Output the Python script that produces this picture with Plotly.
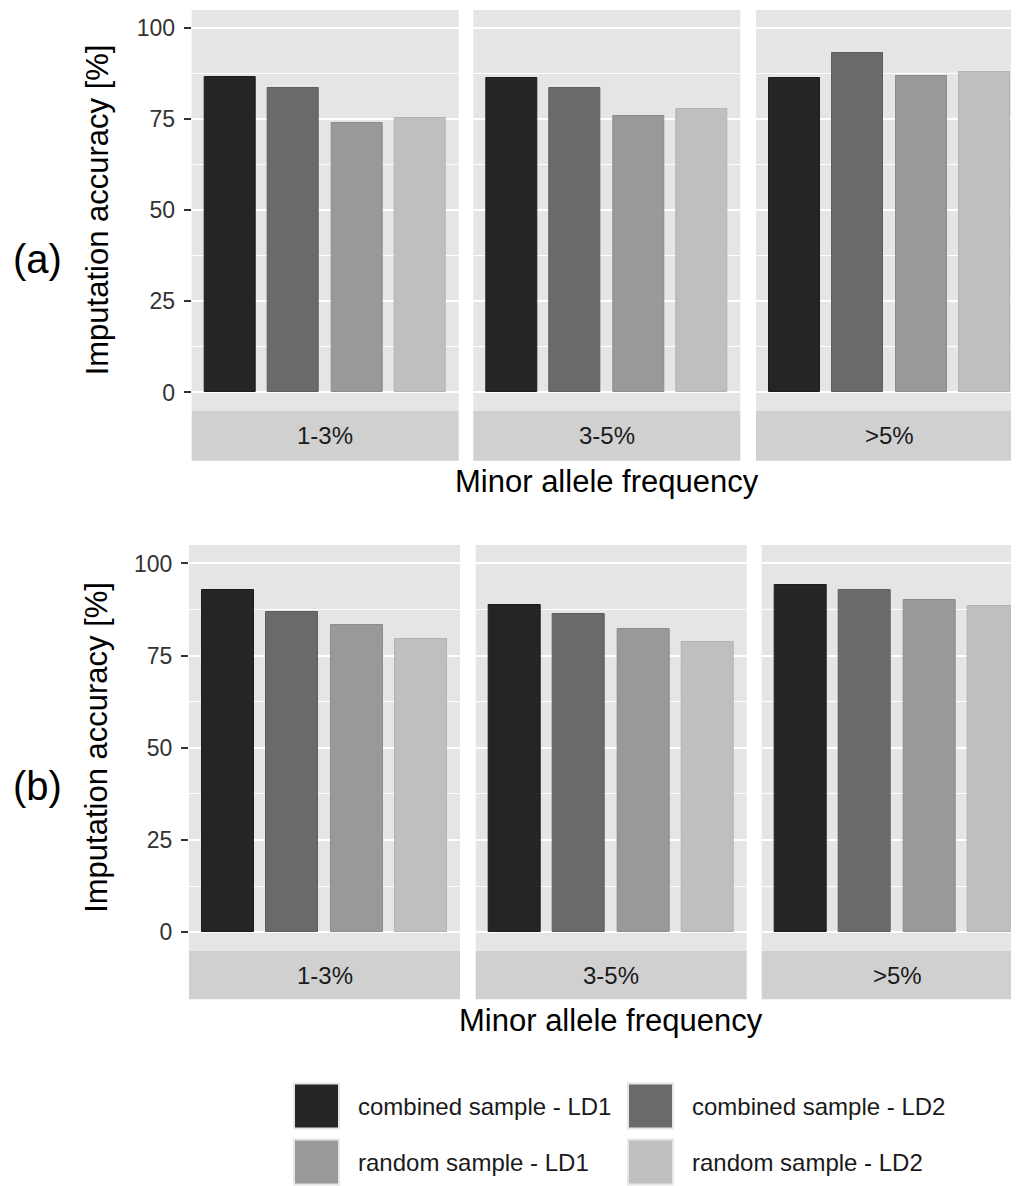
import plotly.graph_objects as go

# ---------------- data ----------------
facets = ["1-3%", "3-5%", ">5%"]
series = ["combined sample - LD1", "combined sample - LD2",
          "random sample - LD1", "random sample - LD2"]
colors = ["#252525", "#6a6a6a", "#999999", "#bfbfbf"]
edge_colors = ["#1c1c1c", "#5e5e5e", "#8c8c8c", "#b3b3b3"]
y_ticks = [0, 25, 50, 75, 100]
y_minor = [12.5, 37.5, 62.5, 87.5]

# panel (a): one value per facet (1-3%, 3-5%, >5%)
a_comb_ld1 = [86.5, 86.2, 86.2]
a_comb_ld2 = [83.6, 83.6, 93.2]
a_rand_ld1 = [74.1, 75.9, 86.9]
a_rand_ld2 = [75.4, 77.7, 87.9]
# panel (b)
b_comb_ld1 = [92.8, 88.7, 94.1]
b_comb_ld2 = [86.7, 86.3, 92.8]
b_rand_ld1 = [83.4, 82.3, 90.1]
b_rand_ld2 = [79.4, 78.8, 88.5]

panel_values = [
    [a_comb_ld1, a_comb_ld2, a_rand_ld1, a_rand_ld2],
    [b_comb_ld1, b_comb_ld2, b_rand_ld1, b_rand_ld2],
]
panel_labels = ["(a)", "(b)"]

# ---------------- geometry (page pixels) ----------------
W, H = 1019, 1186
OFF = 8  # default body margin of the html page
FONT = "Liberation Sans, Arial, Helvetica, sans-serif"

panels = [
    dict(top=10, bottom=410.7, strip_bottom=460.7, starts=[191.7, 473.3, 756.0], width=267.0, label_y=259),
    dict(top=545, bottom=950.7, strip_bottom=999.3, starts=[189.0, 475.7, 761.7], width=271.0, label_y=786),
]


def px(x):
    return (x - OFF) / W


def py(y):
    return 1 - (y - OFF) / H


fig = go.Figure()
layout = dict(
    width=W, height=H, autosize=False,
    margin=dict(l=0, r=0, t=0, b=0),
    paper_bgcolor="white", plot_bgcolor="#e5e5e5",
    showlegend=False, bargap=0,
    font=dict(family=FONT, color="#1a1a1a"),
)
shapes = []
annotations = []

for p, pan in enumerate(panels):
    vals = panel_values[p]
    for f in range(3):
        k = p * 3 + f
        xid = "x" if k == 0 else f"x{k+1}"
        yid = "y" if k == 0 else f"y{k+1}"
        xkey = "xaxis" if k == 0 else f"xaxis{k+1}"
        ykey = "yaxis" if k == 0 else f"yaxis{k+1}"
        x0 = pan["starts"][f]
        x1 = min(x0 + pan["width"], W)
        visible = (x1 - x0) / pan["width"] * 4.2
        layout[xkey] = dict(
            domain=[px(x0), px(x1)], anchor=yid,
            type="category", categoryorder="array", categoryarray=series,
            range=[-0.6, -0.6 + visible],
            showticklabels=False, ticks="", showgrid=False, zeroline=False,
            showline=False, fixedrange=True,
        )
        layout[ykey] = dict(
            domain=[py(pan["bottom"]), py(pan["top"])], anchor=xid,
            range=[-5, 105], tickmode="array", tickvals=y_ticks,
            ticktext=[str(t) for t in y_ticks],
            showgrid=True, gridcolor="white", gridwidth=2.2,
            minor=dict(tickmode="array", tickvals=y_minor, showgrid=True,
                       gridcolor="white", gridwidth=1.1, ticks=""),
            zeroline=False, showline=False, fixedrange=True,
            showticklabels=(f == 0),
            ticks="outside" if f == 0 else "",
            ticklen=7, tickwidth=2, tickcolor="#333333",
            ticklabelstandoff=4,
            tickfont=dict(family=FONT, size=23, color="#333333"),
        )
        for s in range(4):
            fig.add_trace(go.Bar(
                x=[series[s]], y=[vals[s][f]], name=series[s],
                width=0.8, xaxis=xid, yaxis=yid,
                marker=dict(color=colors[s], line=dict(color=edge_colors[s], width=1)),
                hovertemplate=f"{facets[f]}<br>{series[s]}: %{{y}}<extra></extra>",
            ))
        # strip
        shapes.append(dict(type="rect", xref="paper", yref="paper",
                           x0=px(x0), x1=px(x1), y0=py(pan["strip_bottom"]), y1=py(pan["bottom"]),
                           fillcolor="#d0d0d0", line=dict(width=0), layer="below"))
        annotations.append(dict(
            text=facets[f], xref="paper", yref="paper",
            x=px(x0 + pan["width"] / 2), y=py((pan["bottom"] + pan["strip_bottom"]) / 2),
            xanchor="center", yanchor="middle", showarrow=False,
            font=dict(family=FONT, size=24, color="#1a1a1a")))
    # axis titles
    full_left = pan["starts"][0]
    full_right = pan["starts"][2] + pan["width"]
    annotations.append(dict(
        text="Minor allele frequency", xref="paper", yref="paper",
        x=px((full_left + full_right) / 2), y=py(pan["strip_bottom"] + 21),
        xanchor="center", yanchor="middle", showarrow=False,
        font=dict(family=FONT, size=31, color="#000000")))
    annotations.append(dict(
        text="Imputation accuracy [%]", xref="paper", yref="paper",
        x=px(97), y=py((pan["top"] + pan["bottom"]) / 2), textangle=-90,
        xanchor="center", yanchor="middle", showarrow=False,
        font=dict(family=FONT, size=31, color="#000000")))
    annotations.append(dict(
        text=panel_labels[p], xref="paper", yref="paper",
        x=px(37), y=py(pan["label_y"]),
        xanchor="center", yanchor="middle", showarrow=False,
        font=dict(family=FONT, size=40, color="#000000")))

# ---------------- legend (2 x 2) ----------------
leg_cols = [294, 628]
leg_text_x = [356, 690]
leg_rows = [1106, 1162]
for s in range(4):
    r, c = divmod(s, 2)
    cx, cy = leg_cols[c], leg_rows[r]
    shapes.append(dict(type="rect", xref="paper", yref="paper",
                       x0=px(cx), x1=px(cx + 45), y0=py(cy + 22.5), y1=py(cy - 22.5),
                       fillcolor=colors[s], line=dict(color="#e6e6e6", width=2)))
    annotations.append(dict(
        text=series[s], xref="paper", yref="paper",
        x=px(leg_text_x[c]), y=py(cy), xanchor="left", yanchor="middle",
        showarrow=False, font=dict(family=FONT, size=24, color="#1a1a1a")))

layout["shapes"] = shapes
layout["annotations"] = annotations
fig.update_layout(**layout)
fig.write_html("out.html")
